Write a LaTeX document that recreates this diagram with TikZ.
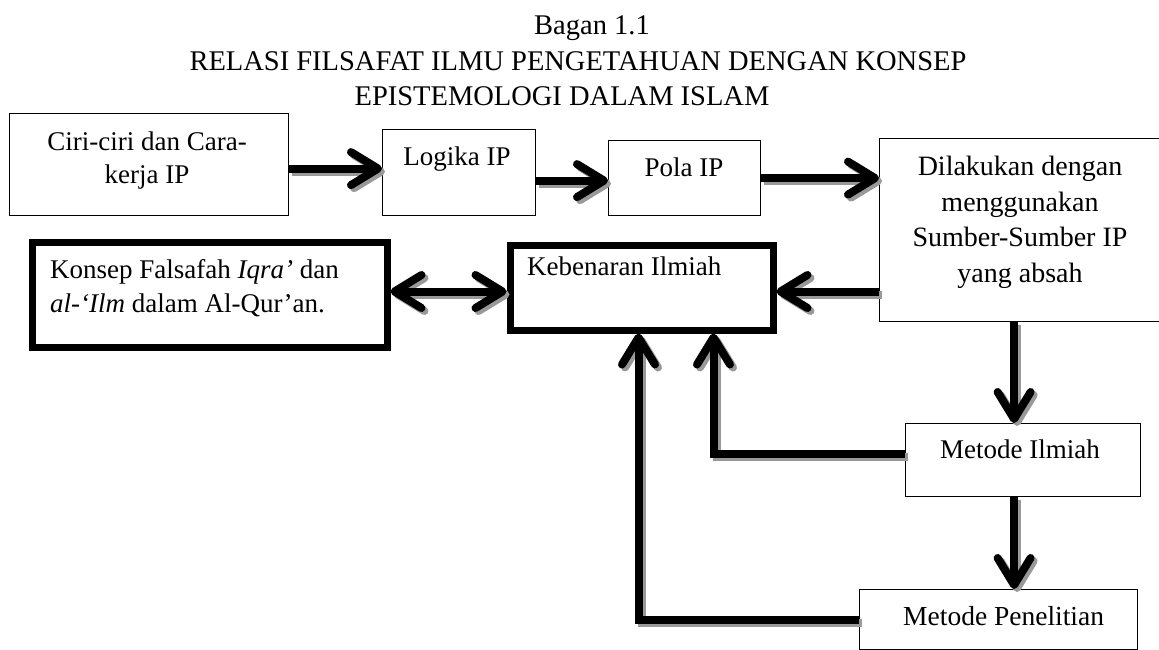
\documentclass[tikz,border=0pt]{standalone}
\usepackage{fontspec}
\setmainfont{Liberation Serif}
\usetikzlibrary{arrows.meta}
\tikzset{
  thinbox/.style={draw, line width=1.2pt, inner sep=0pt, anchor=north west},
  thickbox/.style={draw, line width=7pt, inner sep=0pt, anchor=north west},
  boxtext/.style={inner sep=0pt, font=\fontsize{27}{33}\selectfont},
  titletext/.style={inner sep=0pt, anchor=base, font=\fontsize{28.5}{34}\selectfont},
  conn/.style={line width=8pt, line join=miter},
  shade/.style={draw=black!40, transform canvas={xshift=3pt,yshift=-3pt}},
  >={Straight Barb[round,length=27pt,width=33pt]}
}
\newcommand\myconn[2]{\draw[conn,shade,#1] #2; \draw[conn,#1] #2;}
\begin{document}
\begin{tikzpicture}[x=1pt,y=-1pt]
\useasboundingbox (0,0) rectangle (1159,649);
\clip (0,0) rectangle (1159,649);
\fill[white] (0,0) rectangle (1159,649);

% title
\node[titletext] (t1) at (592,34) {Bagan 1.1};
\node[titletext] (t2) at (578,70) {RELASI FILSAFAT ILMU PENGETAHUAN DENGAN KONSEP};
\node[titletext] (t3) at (562,105) {EPISTEMOLOGI DALAM ISLAM};

% boxes
\node[thinbox, minimum width=279pt, minimum height=102pt] (A) at (9,113) {};
\node[thinbox, minimum width=153pt, minimum height=86pt] (B) at (382,129) {};
\node[thinbox, minimum width=152pt, minimum height=75pt] (C) at (608,140) {};
\node[thinbox, minimum width=300pt, minimum height=183pt] (D) at (879,138) {};
\node[thickbox, minimum width=355pt, minimum height=105pt] (E) at (28.5,238.5) {};
\node[thickbox, minimum width=263pt, minimum height=85pt] (F) at (506.5,241.5) {};
\node[thinbox, minimum width=235pt, minimum height=73pt] (G) at (905,423) {};
\node[thinbox, minimum width=278pt, minimum height=60pt] (H) at (859,589) {};

% texts
\node[boxtext, anchor=north, align=center] (tA) at (147,131.5) {Ciri-ciri dan Cara-\\kerja IP};
\node[boxtext, anchor=base] (tB) at (457,165) {Logika IP};
\node[boxtext, anchor=base] (tC) at (684,176) {Pola IP};
\node[boxtext, anchor=north, align=center, font=\fontsize{28}{35.5}\selectfont] (tD) at (1020,156)
  {Dilakukan dengan\\menggunakan\\Sumber-Sumber IP\\yang absah};
\node[boxtext, anchor=north west, align=left, font=\fontsize{27}{34}\selectfont] (tE) at (50,259.5)
  {Konsep Falsafah \textit{Iqra’} dan\\\textit{al-‘Ilm} dalam Al-Qur’an.};
\node[boxtext, anchor=base west] (tF) at (527,275) {Kebenaran Ilmiah};
\node[boxtext, anchor=base] (tG) at (1020,458) {Metode Ilmiah};
\node[boxtext, anchor=base west, font=\fontsize{27.5}{33}\selectfont] (tH) at (903,625) {Metode Penelitian};

% helper coordinates
\coordinate (bw) at ([yshift=4pt]B.west);
\coordinate (cw) at ([yshift=-2.5pt]C.west);
\coordinate (gx) at ([xshift=-9pt]G.north);
\coordinate (fL) at ([xshift=-3pt]F.south);
\coordinate (fR) at ([xshift=72pt]F.south);
\coordinate (gw) at ([yshift=6pt]G.west);
\coordinate (fe) at ([yshift=-4pt]F.east);
\coordinate (ee) at ([yshift=3pt]E.east);

% connectors
\myconn{->}{(A.east |- bw) -- (bw)}
\myconn{->}{(B.east |- cw) -- (cw)}
\myconn{->}{(C.east) -- (C.east -| D.west)}
\myconn{<->}{(ee) -- (ee -| F.west)}
\myconn{->}{(D.west |- fe) -- (fe)}
\myconn{->}{(gx |- D.south) -- (gx)}
\myconn{->}{(gx |- G.south) -- (gx |- H.north)}
\myconn{->}{(gw) -- (gw -| fR) -- (fR)}
\myconn{->}{(H.west) -- (H.west -| fL) -- (fL)}
\end{tikzpicture}
\end{document}
